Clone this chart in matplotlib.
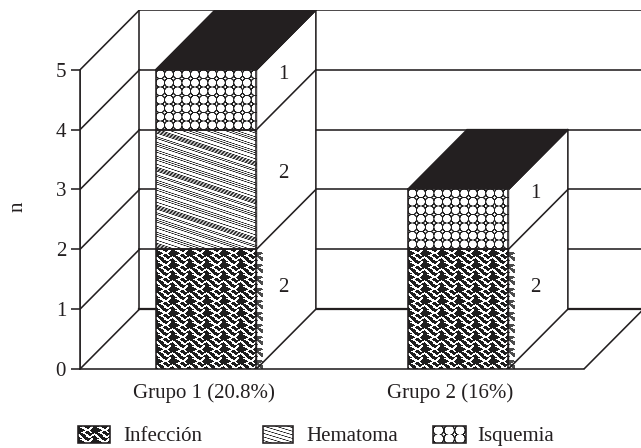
import numpy as np
import matplotlib
matplotlib.use("Agg")
import matplotlib.pyplot as plt
from matplotlib.patches import Rectangle, Polygon

# Cases per group and complication
groups = ["Grupo 1 (20.8%)", "Grupo 2 (16%)"]
infeccion = [2, 2]
hematoma = [2, 0]
isquemia = [1, 1]
series_names = ["Infección", "Hematoma", "Isquemia"]
y_ticks = [0, 1, 2, 3, 4, 5]

INK = "#231f20"
LW = 1.15
W, H = 641, 448
plt.rcParams["font.family"] = ["Liberation Serif", "DejaVu Serif"]
plt.rcParams["font.size"] = 15

# Oblique projection of the box: depth moves a point right and up
BAR_WIDTH = 0.4
DEPTH_X = 0.236
DEPTH_Y = 1.0
PX_X = 252.0
PX_Y = 59.83

TILE = [
    "####..#######..##",
    "##.....#####...##",
    "####.....##...###",
    "######.......####",
    "#######.....#####",
    "#####...###..####",
    "###....#####..###",
    "#####...########.",
    "..#####...####...",
    "...#####...##...#",
    "#...####......###",
    "##...#####...####",
]
tile = np.array([[0.12 if c == "#" else 1.0 for c in row] for row in TILE])
HEMATOMA_OFFSETS = [0, 1.3, 2.6, 3.9, 7.5, 9.2, 13, 15, 16.8, 21, 23, 27, 29, 31, 35]


def infeccion_image(w, h):
    rows = np.tile(tile, (h // tile.shape[0] + 1, w // tile.shape[1] + 1))
    return rows[:h, :w]


def hematoma_image(w, h, period=38.0, slope=0.33, offsets=HEMATOMA_OFFSETS):
    yy, xx = np.mgrid[0:h, 0:w]
    v = yy + 0.5 - slope * (xx + 0.5)
    phase = np.mod(v[..., None] - np.array(offsets), period)
    dist = np.minimum(phase, period - phase).min(axis=-1)
    return np.clip(0.12 + 0.88 * (dist - 0.1) / 0.6, 0.12, 1.0)


def isquemia_image(w, h, period_x=8.65, period_y=8.5, radius=4.5):
    yy, xx = np.mgrid[0:h, 0:w]
    dx = np.mod(xx + 0.5, period_x) - period_x / 2
    dy = np.mod(yy + 0.5, period_y) - period_y / 2
    ring = np.abs(np.hypot(dx, dy) - radius)
    return np.clip(0.12 + 0.88 * (ring - 0.45) / 0.5, 0.12, 1.0)


def paint(axis, img, x0, x1, y0, y1, z):
    axis.imshow(img, extent=(x0, x1, y0, y1), cmap="gray", vmin=0, vmax=1,
                interpolation="nearest", aspect="auto", zorder=z)


fig = plt.figure(figsize=(W / 100, H / 100), dpi=100)
fig.patch.set_facecolor("white")
ax = fig.add_axes([80 / W, (H - 369) / H, (W - 80) / W, 359 / H])
xmax = (W - 80) / PX_X
ymax = 6.0


def line(xs, ys, lw=LW, z=1):
    ax.plot(xs, ys, color=INK, lw=lw, solid_capstyle="projecting", zorder=z)


# Left wall, floor and back wall grid
for v in y_ticks:
    line([0, DEPTH_X], [v, v + DEPTH_Y])
    line([DEPTH_X, xmax], [v + DEPTH_Y, v + DEPTH_Y], lw=LW * (1.4 if v == 0 else 1))
line([0, 0], [0, 5])
line([DEPTH_X, DEPTH_X], [DEPTH_Y, 5 + DEPTH_Y])
line([2, 2 + DEPTH_X], [0, DEPTH_Y])

# Stacked boxes; each count sits on the side panel of its own segment
centres = [0.5 + i for i in range(len(groups))]
stack = [(infeccion, infeccion_image, 0.36),
         (hematoma, hematoma_image, 0.27),
         (isquemia, isquemia_image, 0.43)]
for i, cx in enumerate(centres):
    x0, x1 = cx - BAR_WIDTH / 2, cx + BAR_WIDTH / 2
    total = infeccion[i] + hematoma[i] + isquemia[i]
    ax.add_patch(Polygon([(x1, 0), (x1 + DEPTH_X, DEPTH_Y), (x1 + DEPTH_X, total + DEPTH_Y), (x1, total)],
                         closed=True, fc="white", ec=INK, lw=LW, zorder=3))
    ax.add_patch(Polygon([(x0, total), (x1, total), (x1 + DEPTH_X, total + DEPTH_Y), (x0 + DEPTH_X, total + DEPTH_Y)],
                         closed=True, fc=INK, ec=INK, lw=LW, zorder=4))
    bottom = 0
    for values, make_image, label_lift in stack:
        v = values[i]
        if v == 0:
            continue
        w_px = int(round(BAR_WIDTH * PX_X))
        h_px = int(round(v * PX_Y))
        paint(ax, make_image(w_px, h_px), x0, x1, bottom, bottom + v, 5)
        ax.add_patch(Rectangle((x0, bottom), BAR_WIDTH, v, fill=False, ec=INK, lw=LW, zorder=6))
        ax.plot([x1, x1 + DEPTH_X], [bottom + v, bottom + v + DEPTH_Y], color=INK, lw=LW, zorder=4)
        ax.text(x1 + DEPTH_X * 0.46, bottom + v / 2 + label_lift, str(v), ha="center", va="center",
                color=INK, zorder=7)
        if make_image is infeccion_image:
            # The fill pattern spills a little past the front edge of the box
            fringe_w = 7
            img = make_image(fringe_w, h_px)
            rgba = np.zeros((h_px, fringe_w, 4))
            rgba[..., :3] = 0.12
            rgba[..., 3] = (img < 0.5) * 0.8
            rgba[::12, :, 3] = 0
            rgba[1::12, :, 3] = 0
            rgba[2::12, :, 3] = 0
            ax.imshow(rgba, extent=(x1, x1 + fringe_w / PX_X, bottom, bottom + v),
                      interpolation="nearest", aspect="auto", zorder=5)
        bottom += v

ax.set_xlim(0, xmax)
ax.set_ylim(0, ymax)
ax.patch.set_visible(False)
for name in ("top", "right"):
    ax.spines[name].set_visible(False)
ax.spines["left"].set_bounds(0, 5)
ax.spines["bottom"].set_bounds(0, 2)
for name in ("left", "bottom"):
    ax.spines[name].set_color(INK)
    ax.spines[name].set_linewidth(LW)
ax.set_yticks(y_ticks)
ax.set_xticks([0.49, 1.47])
ax.set_xticklabels(groups, color=INK)
ax.tick_params(axis="y", length=6.5, width=LW, color=INK, labelcolor=INK, pad=3.5)
ax.tick_params(axis="x", length=0, pad=10.5)
ax.set_ylabel("n", color=INK, va="center")
ax.yaxis.set_label_coords((18 - 80) / (W - 80), (369 - 207) / 359)

# Legend row drawn on an overlay in figure pixels
lg = fig.add_axes([0, 0, 1, 1])
lg.patch.set_visible(False)
lg.axis("off")
swatches = [
    (78, 110, 123, lambda w, h: infeccion_image(w, h)),
    (263, 293, 306, lambda w, h: hematoma_image(w, h, period=3.6, slope=0.3, offsets=[0])),
    (433, 466, 477, lambda w, h: isquemia_image(w, h, period_x=10.8, period_y=8.5, radius=5.2)),
]
top_y, bot_y = 426, 443
for name, (sx0, sx1, tx, make) in zip(series_names, swatches):
    paint(lg, make(sx1 - sx0, bot_y - top_y), sx0, sx1, bot_y, top_y, 2)
    lg.add_patch(Rectangle((sx0, top_y), sx1 - sx0, bot_y - top_y, fill=False, ec=INK, lw=LW, zorder=3))
    lg.text(tx, 441, name, ha="left", va="baseline", color=INK)
lg.set_xlim(0, W)
lg.set_ylim(H, 0)

fig.savefig("out.png", dpi=100, facecolor="white")
